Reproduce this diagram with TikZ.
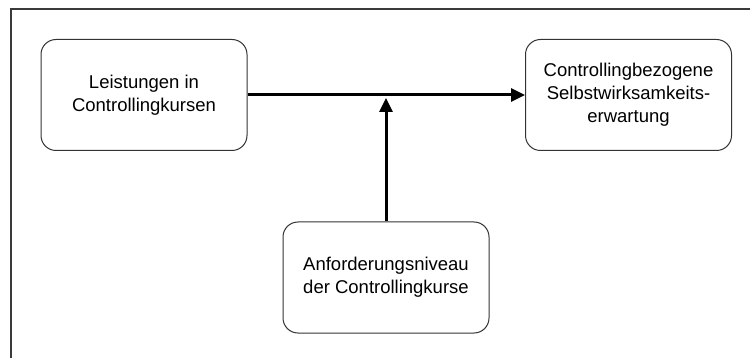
\documentclass[tikz,border=0pt]{standalone}
\usepackage{fontspec}
\setmainfont{Liberation Sans}
\usepackage{tikz}
\usetikzlibrary{arrows.meta}
\definecolor{edge}{HTML}{333333}
\definecolor{frame}{HTML}{3A3A3A}
\tikzset{
  box/.style={draw=edge, line width=1pt, rounded corners=15pt,
    minimum width=206pt, minimum height=111pt, align=center,
    font=\fontsize{18.5}{23}\selectfont, inner sep=0pt},
  flow/.style={draw=black, line width=3pt, -{Triangle[length=14pt,width=13pt]}},
  rim/.style={draw=frame, line width=1.4pt},
}

\begin{document}
\begin{tikzpicture}[x=1pt,y=-1pt]
  \useasboundingbox (0,0) rectangle (750,358);
  \draw[rim] (750,9) -- (11,9) -- (11,358);
  \node[box] (perf) at (144,95) {Leistungen in\\Controllingkursen};
  \node[box] (selfeff) at (628.5,95) {Controllingbezogene\\Selbstwirksamkeits-\\erwartung};
  \node[box] (level) at (386,277.5) {Anforderungsniveau\\der Controllingkurse};
  \coordinate (join) at (386,98);
  \draw[flow] (perf.east) -- (selfeff.west);
  \draw[flow] (level.north) -- (join);
\end{tikzpicture}
\end{document}
